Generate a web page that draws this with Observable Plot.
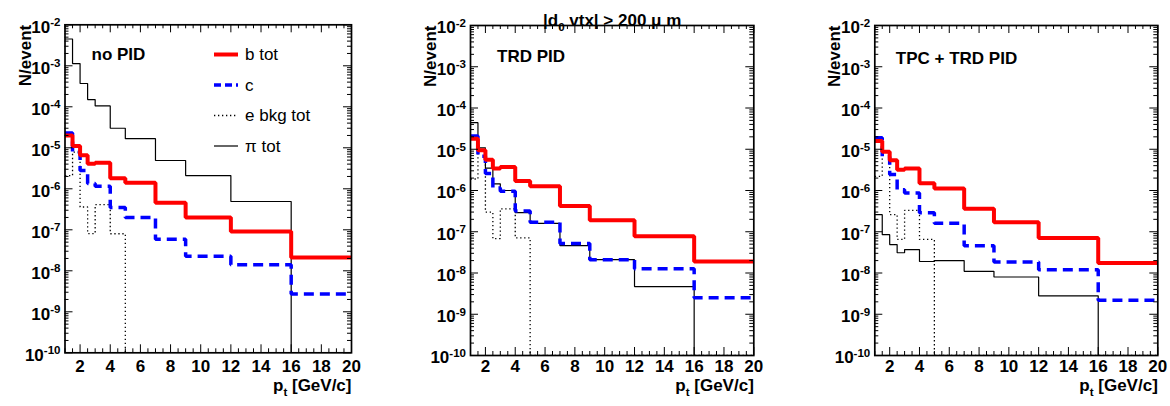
<!DOCTYPE html>
<html><head><meta charset="utf-8">
<script src="https://cdn.jsdelivr.net/npm/d3@7"></script>
<script src="https://cdn.jsdelivr.net/npm/@observablehq/plot@0.6"></script>
<style>
body{margin:0;background:#fff;}
#chart{position:relative;width:1170px;height:406px;display:flex;font-family:"Liberation Sans",Arial,sans-serif;background:#fff;}
#chart > div{position:relative;width:390px;height:406px;}
#chart svg{display:block;overflow:visible;}
</style></head><body><div id="chart"></div>
<script>
// ---------- data ----------
const Y_MIN = 1e-10, Y_MAX = 1e-2;
const ptEdges = [1, 1.5, 2, 2.5, 3, 4, 5, 7, 9, 12, 16, 20];
const xTickLabels = [2, 4, 6, 8, 10, 12, 14, 16, 18, 20];
const yTickDecades = [1e-10, 1e-9, 1e-8, 1e-7, 1e-6, 1e-5, 1e-4, 1e-3, 1e-2];

const panelLabels = ["no PID", "TRD PID", "TPC + TRD PID"];
const seriesNames = ["b tot", "c", "e bkg tot", "π tot"];

// no PID
const bTot_noPID = [2.0e-5, 1.1e-5, 6.6e-6, 4.1e-6, 4.3e-6, 1.8e-6, 1.4e-6, 4.6e-7, 2.0e-7, 9.1e-8, 2.1e-8];
const c_noPID    = [2.3e-5, 7.8e-6, 2.8e-6, 1.35e-6, 1.15e-6, 3.5e-7, 2.0e-7, 5.9e-8, 2.25e-8, 1.4e-8, 2.7e-9];
const eBkg_noPID = [2.1e-6, 7.8e-6, 3.6e-7, 8.1e-8, 4.1e-7, 8.0e-8, 0, 0, 0, 0, 0];
const pi_noPID   = [4.5e-3, 1.13e-3, 3.7e-4, 1.5e-4, 1.05e-4, 3.0e-5, 1.67e-5, 4.9e-6, 2.1e-6, 4.9e-7, 0];
// TRD PID
const bTot_TRD = [1.8e-5, 9.5e-6, 5.6e-6, 3.4e-6, 3.7e-6, 1.7e-6, 1.26e-6, 4.2e-7, 1.9e-7, 7.8e-8, 1.9e-8];
const c_TRD    = [2.1e-5, 6.8e-6, 2.6e-6, 1.15e-6, 9.6e-7, 3.2e-7, 1.7e-7, 5.2e-8, 2.1e-8, 1.26e-8, 2.5e-9];
const eBkg_TRD = [1.9e-6, 9.0e-6, 3.0e-7, 6.8e-8, 3.6e-7, 7.1e-8, 0, 0, 0, 0, 0];
const pi_TRD   = [4.4e-5, 1.08e-5, 3.5e-6, 1.45e-6, 1.0e-6, 2.9e-7, 1.6e-7, 4.6e-8, 2.1e-8, 4.7e-9, 0];
// TPC + TRD PID
const bTot_TPCTRD = [1.58e-5, 8.7e-6, 5.4e-6, 3.2e-6, 3.4e-6, 1.5e-6, 1.12e-6, 3.6e-7, 1.7e-7, 7.1e-8, 1.75e-8];
const c_TPCTRD    = [1.9e-5, 6.6e-6, 2.45e-6, 1.05e-6, 8.7e-7, 2.9e-7, 1.6e-7, 4.6e-8, 1.85e-8, 1.2e-8, 2.2e-9];
const eBkg_TPCTRD = [2.2e-6, 9.0e-6, 2.6e-7, 6.5e-8, 3.3e-7, 6.5e-8, 0, 0, 0, 0, 0];
const pi_TPCTRD   = [2.6e-7, 8.5e-8, 4.9e-8, 3.1e-8, 3.7e-8, 1.9e-8, 2.0e-8, 1.1e-8, 8.0e-9, 2.8e-9, 0];

const titleText = "|d_{0} vtx| > 200 μ m";
const yLabelText = "N/event";
const xLabelText = "p_{t} [GeV/c]";

// ---------- styles ----------
const seriesColors = ["#ff0000", "#0000ff", "#000000", "#000000"];
const seriesWidths = [4, 3.5, 1.3, 1.2];
const seriesDash = [undefined, "10,6", "1.3,2.7", undefined];
const FONT = '"Liberation Sans", Arial, sans-serif';

const xMinorTicks = d3.range(1, 20.001, 0.5).filter(v => Math.abs(v / 2 - Math.round(v / 2)) > 1e-9);
const yMinorTicks = yTickDecades.slice(0, -1).flatMap(d => d3.range(2, 10).map(m => m * d));

const panels = [
  {label: panelLabels[0], values: [bTot_noPID, c_noPID, eBkg_noPID, pi_noPID], mL: 64.5, mR: 39, mT: 24.3, mB: 53.7, nameDx: 26.5, nameDy: 23.5, legend: true},
  {label: panelLabels[1], values: [bTot_TRD, c_TRD, eBkg_TRD, pi_TRD], mL: 80, mR: 26.7, mT: 25, mB: 51, nameDx: 26.5, nameDy: 24.3, title: true},
  {label: panelLabels[2], values: [bTot_TPCTRD, c_TPCTRD, eBkg_TPCTRD, pi_TPCTRD], mL: 94.3, mR: 12.7, mT: 25, mB: 51, nameDx: 21, nameDy: 26}
];

function richify(root) {
  root.querySelectorAll("text").forEach(t => {
    const s = t.textContent;
    if (!/[_^]\{/.test(s)) return;
    const fs = parseFloat(getComputedStyle(t).fontSize) || 17;
    t.textContent = "";
    const re = /([_^])\{([^}]*)\}/g;
    let last = 0, m, pending = 0;
    const add = (txt, opts = {}) => {
      const ts = document.createElementNS("http://www.w3.org/2000/svg", "tspan");
      ts.textContent = txt;
      if (opts.dy) ts.setAttribute("dy", opts.dy);
      if (opts.size) ts.setAttribute("font-size", opts.size);
      t.appendChild(ts);
    };
    while ((m = re.exec(s))) {
      if (m.index > last) { add(s.slice(last, m.index), {dy: pending}); pending = 0; }
      const shift = m[1] === "^" ? -0.38 * fs : 0.3 * fs;
      add(m[2], {dy: pending + shift, size: 0.68 * fs});
      pending = -shift;
      last = re.lastIndex;
    }
    if (last < s.length) add(s.slice(last), {dy: pending});
  });
}

const chart = document.getElementById("chart");
for (const p of panels) {
  const W = 390, H = 406;
  const pw = W - p.mL - p.mR, ph = H - p.mT - p.mB;
  const bottom = H - p.mB;
  const toSteps = vals => ptEdges.map((x, i) => ({x, y: Math.max(vals[Math.min(i, vals.length - 1)], Y_MIN)}));
  const marks = [];
  for (const k of [3, 2, 1, 0]) {
    marks.push(Plot.line(toSteps(p.values[k]), {
      x: "x", y: "y", curve: "step-after", stroke: seriesColors[k], strokeWidth: seriesWidths[k],
      strokeDasharray: seriesDash[k], strokeLinejoin: "miter", strokeLinecap: "butt", clip: true
    }));
  }
  marks.push(
    Plot.ruleX(xTickLabels, {insetTop: ph - 8, stroke: "black"}),
    Plot.ruleX(xTickLabels, {insetBottom: ph - 8, stroke: "black"}),
    Plot.ruleX(xMinorTicks, {insetTop: ph - 4, stroke: "black"}),
    Plot.ruleX(xMinorTicks, {insetBottom: ph - 4, stroke: "black"}),
    Plot.ruleY(yTickDecades, {insetRight: pw - 8, stroke: "black"}),
    Plot.ruleY(yTickDecades, {insetLeft: pw - 8, stroke: "black"}),
    Plot.ruleY(yMinorTicks, {insetRight: pw - 4, stroke: "black"}),
    Plot.ruleY(yMinorTicks, {insetLeft: pw - 4, stroke: "black"}),
    Plot.frame({stroke: "black", strokeWidth: 1.7}),
    Plot.axisX(xTickLabels, {tickSize: 0, tickPadding: 359.5 - bottom, tickFormat: d => String(d), fontSize: 17, fontWeight: "bold", label: null}),
    Plot.axisY(yTickDecades, {tickSize: 0, tickPadding: 4.5, dy: 2.5, tickFormat: d => `10^{${Math.round(Math.log10(d))}}`, fontSize: 17, fontWeight: "bold", label: null}),
    Plot.text([yLabelText], {frameAnchor: "top-left", rotate: -90, textAnchor: "end", dx: -46.5, fontSize: 17, fontWeight: "bold"}),
    Plot.text([xLabelText], {frameAnchor: "bottom-right", textAnchor: "end", dy: 390 - bottom, fontSize: 17, fontWeight: "bold"}),
    Plot.text([p.label], {frameAnchor: "top-left", textAnchor: "start", dx: p.nameDx, dy: p.nameDy, fontSize: 17, fontWeight: "bold"})
  );
  if (p.title) marks.push(Plot.text([titleText], {frameAnchor: "top", dy: 13.3 - p.mT, fontSize: 17, fontWeight: "bold"}));
  const svg = Plot.plot({
    width: W, height: H,
    marginLeft: p.mL, marginRight: p.mR, marginTop: p.mT, marginBottom: p.mB,
    style: {fontFamily: FONT, background: "white", color: "black"},
    x: {domain: [1, 20]},
    y: {type: "log", domain: [Y_MIN, Y_MAX]},
    marks
  });
  const holder = document.createElement("div");
  holder.appendChild(svg);
  chart.appendChild(holder);
  richify(svg);

  if (p.legend) {
    const lg = d3.select(holder).append("svg")
      .attr("width", 140).attr("height", 120)
      .style("position", "absolute").style("left", "210px").style("top", "38px");
    seriesNames.forEach((name, k) => {
      const yc = 16.5 + k * 30.5;
      lg.append("line").attr("x1", 4).attr("x2", 28).attr("y1", yc).attr("y2", yc)
        .attr("stroke", seriesColors[k]).attr("stroke-width", seriesWidths[k])
        .attr("stroke-dasharray", k === 1 ? "7,4" : seriesDash[k] || null);
      lg.append("text").attr("x", 35).attr("y", yc).attr("dy", "0.35em")
        .attr("font-family", FONT).attr("font-size", 17).attr("fill", "black").text(name);
    });
  }
}
</script></body></html>
